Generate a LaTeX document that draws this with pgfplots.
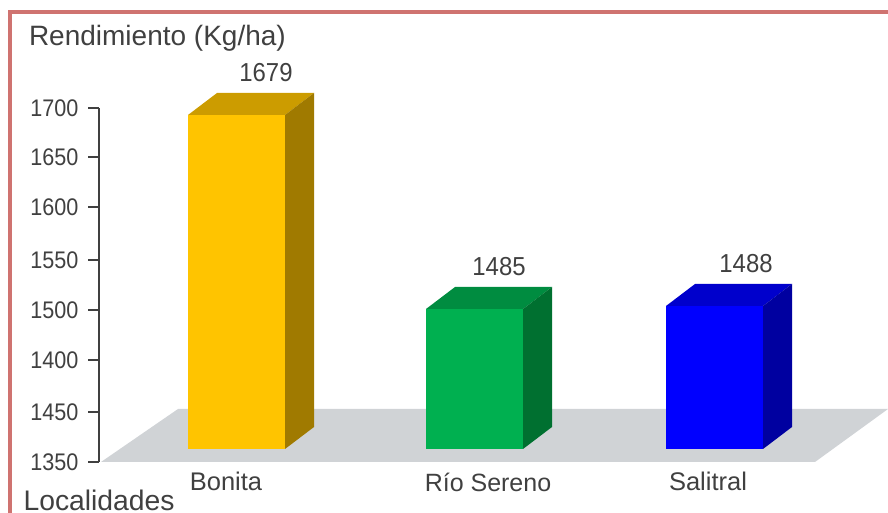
\documentclass[border=0pt]{standalone}
\usepackage{pgfplots}
\pgfplotsset{compat=1.18}
\usepackage{fontspec}
\setmainfont{Liberation Sans}
\newfontfamily\narrowa[FakeStretch=0.90]{Liberation Sans}
\newfontfamily\narrowb[FakeStretch=0.92]{Liberation Sans}
\definecolor{txt}{HTML}{404040}
\definecolor{framec}{HTML}{CF7370}
\definecolor{floorc}{HTML}{D0D3D6}
\begin{document}
\begin{tikzpicture}[x=1pt,y=1pt]
\path[use as bounding box] (0,0) rectangle (888,513);
\begin{axis}[
  at={(99pt,51pt)},anchor=south west,
  scale only axis,width=789pt,height=354pt,
  xmin=99,xmax=888,ymin=1332,ymax=1686,
  clip=false,
  axis y line=left,axis x line=none,
  axis line style={-,color=txt,line width=1.3pt},
  y axis line style={-},
  ytick={1332,1382,1434,1484,1534,1587,1637,1686},
  yticklabels={1350,1450,1400,1500,1550,1600,1650,1700},
  tick align=outside,
  major tick length=11pt,
  tick style={color=txt,line width=1.3pt},
  tick label style={font=\narrowa\fontsize{24}{24}\selectfont,text=txt},
  yticklabel style={xshift=-6pt},
  /pgf/number format/assume math mode=true,
]
% floor
\addplot[fill=floorc,draw=none] coordinates {(101,1332) (178,1385) (888,1385) (815,1332)} -- cycle;
% Bonita
\addplot[fill={rgb,255:red,204;green,156;blue,0},draw=none] coordinates {(188,1679) (217,1701) (314,1701) (285,1679)} -- cycle;
\addplot[fill={rgb,255:red,160;green,122;blue,0},draw=none] coordinates {(285,1345) (314,1367) (314,1701) (285,1679)} -- cycle;
\addplot[fill={rgb,255:red,255;green,196;blue,0},draw=none] coordinates {(188,1345) (285,1345) (285,1679) (188,1679)} -- cycle;
% Rio Sereno
\addplot[fill={rgb,255:red,0;green,140;blue,64},draw=none] coordinates {(426,1485) (455,1507) (552,1507) (523,1485)} -- cycle;
\addplot[fill={rgb,255:red,0;green,112;blue,48},draw=none] coordinates {(523,1345) (552,1367) (552,1507) (523,1485)} -- cycle;
\addplot[fill={rgb,255:red,0;green,176;blue,80},draw=none] coordinates {(426,1345) (523,1345) (523,1485) (426,1485)} -- cycle;
% Salitral
\addplot[fill={rgb,255:red,0;green,0;blue,204},draw=none] coordinates {(666,1488) (695,1510) (792,1510) (763,1488)} -- cycle;
\addplot[fill={rgb,255:red,0;green,0;blue,160},draw=none] coordinates {(763,1345) (792,1367) (792,1510) (763,1488)} -- cycle;
\addplot[fill={rgb,255:red,0;green,0;blue,255},draw=none] coordinates {(666,1345) (763,1345) (763,1488) (666,1488)} -- cycle;
% texts
\node[text=txt,font=\fontsize{28}{28}\selectfont,anchor=west] at (axis cs:25.5,1755.5) {Rendimiento (Kg/ha)};
\node[text=txt,font=\fontsize{28.3}{28}\selectfont,anchor=west,inner ysep=0pt] at (axis cs:20,1293.5) {Localidades};
\node[text=txt,font=\narrowb\fontsize{26}{26}\selectfont] at (axis cs:266,1721) {1679};
\node[text=txt,font=\narrowb\fontsize{26}{26}\selectfont] at (axis cs:499,1527) {1485};
\node[text=txt,font=\narrowb\fontsize{26}{26}\selectfont] at (axis cs:746,1530) {1488};
\node[text=txt,font=\fontsize{25.5}{26}\selectfont] at (axis cs:226,1313) {Bonita};
\node[text=txt,font=\fontsize{25}{26}\selectfont] at (axis cs:488,1312) {Río Sereno};
\node[text=txt,font=\fontsize{25.5}{26}\selectfont] at (axis cs:708,1313) {Salitral};
% frame
\addplot[framec,line width=3.8pt] coordinates {(9.7,1281) (9.7,1782) (888,1782)};
\end{axis}
\end{tikzpicture}
\end{document}
